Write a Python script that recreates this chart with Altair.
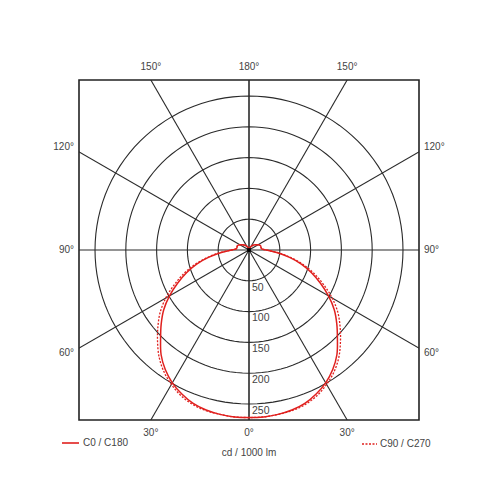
import altair as alt
import numpy as np
import pandas as pd

# ---- data ----
angles = [0, 5, 10, 15, 20, 25, 30, 35, 40, 45, 50, 55, 60, 65, 70, 75, 80, 85,
          90, 95, 100, 110, 120, 130, 140, 150, 160, 170, 180]
c0_c180 = [272, 272, 271, 269, 265, 258, 249, 237, 222, 203, 186, 169, 149, 128,
           108, 88, 66, 45, 28, 21, 20, 20, 17, 13, 10, 7, 4, 2, 0]
c90_c270 = [272, 272, 271, 270, 267, 261, 252, 241, 227, 210, 193, 176, 156, 134,
            113, 91, 68, 46, 28, 21, 20, 20, 17, 13, 10, 7, 4, 2, 0]
ring_values = [50, 100, 150, 200, 250]
spoke_angles = [0, 30, 60, 90, 120, 150, 180]
top_labels = ["150°", "180°", "150°"]
bottom_labels = ["30°", "0°", "30°"]
side_labels = ["120°", "90°", "60°"]
series_names = ["C0 / C180", "C90 / C270"]
unit_label = "cd / 1000 lm"

R = 276  # half-extent of the square frame, in cd
RED = "#e0201e"
GRID = "#2a2a2a"
TXT = "#444444"
FONT = "Liberation Sans"


def curve_frame(vals):
    rows = []
    i = 0
    for a, v in zip(angles[::-1], vals[::-1]):  # left half: 180 -> 0
        rows.append({"i": i, "x": -v * np.sin(np.radians(a)), "y": -v * np.cos(np.radians(a))})
        i += 1
    for a, v in zip(angles[1:], vals[1:]):  # right half: 0 -> 180
        rows.append({"i": i, "x": v * np.sin(np.radians(a)), "y": -v * np.cos(np.radians(a))})
        i += 1
    return pd.DataFrame(rows)


xs = alt.Scale(domain=[-R, R], nice=False, zero=False)
ys = alt.Scale(domain=[-R, R], nice=False, zero=False)
X = alt.X("x:Q", scale=xs, axis=None)
Y = alt.Y("y:Q", scale=ys, axis=None)

# rings
ring_rows = []
for rv in ring_values:
    for k, t in enumerate(np.arange(0, 361, 3)):
        ring_rows.append({"r": rv, "k": k, "x": rv * np.sin(np.radians(t)), "y": rv * np.cos(np.radians(t))})
rings = alt.Chart(pd.DataFrame(ring_rows)).mark_line(color=GRID, strokeWidth=1.1).encode(
    x=X, y=Y, detail="r:N", order="k:Q")

# spokes (clipped to the frame)
sp_rows = []
for a in spoke_angles:
    for s in (-1, 1):
        sp_rows.append({"x": 0.0, "y": 0.0,
                        "x2": s * 900 * np.sin(np.radians(a)),
                        "y2": -900 * np.cos(np.radians(a))})
spokes = alt.Chart(pd.DataFrame(sp_rows)).mark_rule(color=GRID, strokeWidth=1.1, clip=True).encode(
    x=X, y=Y, x2="x2:Q", y2="y2:Q")

center = alt.Chart(pd.DataFrame({"x": [0], "y": [0]})).mark_point(
    filled=True, color="#000", size=14, opacity=1, shape="square").encode(x=X, y=Y)

solid = alt.Chart(curve_frame(c0_c180)).mark_line(
    color=RED, strokeWidth=1.5, interpolate="catmull-rom").encode(x=X, y=Y, order="i:Q")
dotted = alt.Chart(curve_frame(c90_c270)).mark_line(
    color=RED, strokeWidth=1.3, strokeDash=[2, 1.5], interpolate="catmull-rom").encode(
    x=X, y=Y, order="i:Q")

# ring value labels along the 0° spoke
rl = alt.Chart(pd.DataFrame({"t": [str(v) for v in ring_values],
                             "y": [-(v + 11) for v in ring_values], "x": [0] * 5})).mark_text(
    align="left", baseline="middle", dx=3, fontSize=10.5, font=FONT, color=TXT).encode(
    x=X, y=Y, text="t:N")

# angle labels
t30 = R * np.tan(np.radians(30))
top_df = pd.DataFrame({"t": top_labels, "x": [-t30, 0, t30], "y": [R] * 3})
bot_df = pd.DataFrame({"t": bottom_labels, "x": [-t30, 0, t30], "y": [-R] * 3})
top_text = alt.Chart(top_df).mark_text(align="center", baseline="middle", dy=-13, fontSize=10,
                                       font=FONT, color=TXT).encode(x=X, y=Y, text="t:N")
bot_text = alt.Chart(bot_df).mark_text(align="center", baseline="middle", dy=13, fontSize=10,
                                       font=FONT, color=TXT).encode(x=X, y=Y, text="t:N")

side_layers = []
for lab, yv, d in zip(side_labels, [t30, 0, -t30], [-5, 0, 5]):
    df = pd.DataFrame({"t": [lab], "y": [yv]})
    side_layers.append(alt.Chart(df).mark_text(
        align="right", baseline="middle", dx=-5, dy=d, fontSize=10, font=FONT, color=TXT).encode(
        x=alt.value(0), y=Y, text="t:N"))
    side_layers.append(alt.Chart(df).mark_text(
        align="left", baseline="middle", dx=5, dy=d, fontSize=10, font=FONT, color=TXT).encode(
        x=alt.value(340), y=Y, text="t:N"))

# legend and unit label
leg_solid = alt.Chart(pd.DataFrame({"a": [0]})).mark_rule(color=RED, strokeWidth=1.6).encode(
    x=alt.value(-17), x2=alt.value(0), y=alt.value(363))
leg_dot = alt.Chart(pd.DataFrame({"a": [0]})).mark_rule(color=RED, strokeWidth=1.3,
                                                        strokeDash=[2, 1.5]).encode(
    x=alt.value(283), x2=alt.value(298), y=alt.value(364))
leg_t1 = alt.Chart(pd.DataFrame({"t": [series_names[0]]})).mark_text(
    align="left", baseline="middle", fontSize=10, font=FONT, color=TXT).encode(
    x=alt.value(4), y=alt.value(363), text="t:N")
leg_t2 = alt.Chart(pd.DataFrame({"t": [series_names[1]]})).mark_text(
    align="left", baseline="middle", fontSize=10, font=FONT, color=TXT).encode(
    x=alt.value(301), y=alt.value(364), text="t:N")
unit = alt.Chart(pd.DataFrame({"t": [unit_label]})).mark_text(
    align="center", baseline="middle", fontSize=10, font=FONT, color=TXT).encode(
    x=alt.value(170), y=alt.value(373), text="t:N")

chart = alt.layer(
    rings, spokes, dotted, solid, center, rl, top_text, bot_text, *side_layers,
    leg_solid, leg_dot, leg_t1, leg_t2, unit,
).properties(
    width=340, height=340,
    autosize=alt.AutoSizeParams(type="none"),
    padding={"left": 71, "top": 72, "right": 70, "bottom": 60},
).configure_view(stroke="#222222", strokeWidth=1.6)

chart.save("out.html", embed_options={"renderer": "svg", "actions": False})
